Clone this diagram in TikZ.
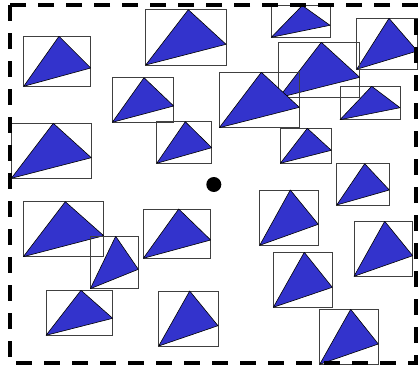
\documentclass[tikz,border=0pt]{standalone}
\definecolor{triblue}{RGB}{51,51,204}
\tikzset{
  boxline/.style={draw=black!75, line width=0.8pt},
  trifill/.style={fill=triblue, draw=black, line width=0.6pt, line join=round},
  border/.style={draw=black, line width=3.4pt, dash pattern=on 16pt off 12pt},
}
\newcommand{\boxtri}[6]{%
  \draw[boxline] (#1,#2) rectangle (#3,#4);
  \filldraw[trifill] (#1,#4) -- (#5,#2) -- (#3,#6) -- cycle;
}
\begin{document}
\begin{tikzpicture}[x=1pt,y=-1pt]
\useasboundingbox (0,0) rectangle (419,370);
\boxtri{23.7}{36.3}{90.7}{86.3}{59}{68}
\boxtri{145.7}{9.7}{226}{65}{188.3}{44.3}
\boxtri{112.3}{77.7}{173.7}{122.3}{144}{106}
\boxtri{11.3}{123.3}{91.3}{178.3}{53.3}{157.7}
\boxtri{156.7}{121.7}{211.7}{163.3}{185.3}{147.7}
\boxtri{271.3}{5.5}{330}{37.3}{302.3}{25.3}
\boxtri{356.7}{18.3}{417.3}{69.3}{389}{51}
\boxtri{278.7}{42.3}{359.7}{97.7}{321.3}{77.3}
\boxtri{219.3}{72.3}{299.3}{127.7}{261.3}{107.3}
\boxtri{340}{86.3}{400}{119.7}{371.7}{107.7}
\boxtri{280.3}{128.3}{331.3}{163.3}{307.3}{150.3}
\boxtri{336.7}{163.7}{389.3}{205}{364.7}{190}
\boxtri{23.3}{201.7}{103.7}{256.7}{65.3}{235.7}
\boxtri{90.3}{236.3}{138.3}{288.7}{115.7}{269.3}
\boxtri{143.3}{209}{210.7}{258.3}{178.7}{240}
\boxtri{46}{290.3}{112.7}{335.3}{81}{318.3}
\boxtri{158.7}{291}{218}{346}{189.7}{325.7}
\boxtri{259.7}{190}{318.3}{245.3}{290.3}{224.3}
\boxtri{354}{221.3}{412.7}{276.3}{384.7}{255.7}
\boxtri{273.3}{252.3}{332.3}{307.3}{304.3}{287.3}
\boxtri{319.7}{309.3}{378.3}{364.3}{350.7}{344}
\fill[black] (213.8,184.5) circle (7.5);
\draw[border] (10,5) rectangle (416,363);
\end{tikzpicture}
\end{document}
